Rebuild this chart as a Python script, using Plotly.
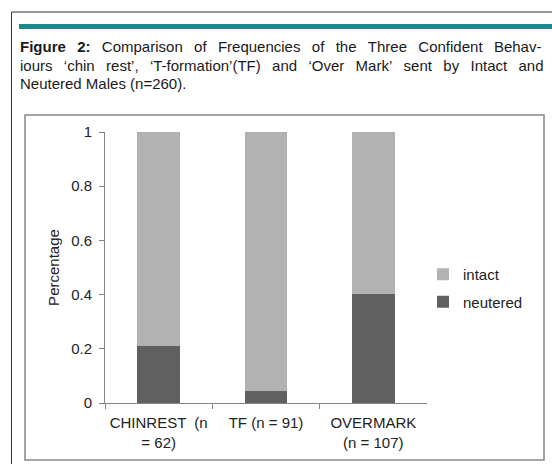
import plotly.graph_objects as go

W, H = 552, 464

categories = ["CHINREST  (n<br>= 62)", "TF (n = 91)", "OVERMARK<br>(n = 107)"]
neutered = [0.21, 0.044, 0.402]
intact = [0.79, 0.956, 0.598]
y_ticks = [0, 0.2, 0.4, 0.6, 0.8, 1]
y_tick_labels = ["0", "0.2", "0.4", "0.6", "0.8", "1"]
title_lines = [
    ["<b>Figure", "2:</b>", "Comparison", "of", "Frequencies", "of", "the", "Three",
     "Confident", "Behav-"],
    ["iours", "\u2018chin", "rest\u2019,", "\u2018T-formation\u2019(TF)", "and", "\u2018Over",
     "Mark\u2019", "sent", "by", "Intact", "and"],
    ["Neutered", "Males", "(n=260)."],
]
justified = [True, True, False]

FONT = "Liberation Sans, Arial, sans-serif"

def px_x(v):
    return v / W

def px_y(v):
    return 1 - v / H

fig = go.Figure()
fig.add_trace(go.Bar(x=categories, y=neutered, name="neutered",
                     marker=dict(color="#606060", line=dict(width=0)),
                     width=0.4, legendgroup="n", legendrank=2))
fig.add_trace(go.Bar(x=categories, y=intact, name="intact",
                     marker=dict(color="#b2b2b2", line=dict(width=0)),
                     width=0.4, legendgroup="i", legendrank=1))

shapes = [
    dict(type="rect", xref="paper", yref="paper", x0=px_x(11.5), x1=px_x(560),
         y0=px_y(480), y1=px_y(12), line=dict(color="#333333", width=1)),
    dict(type="rect", xref="paper", yref="paper", x0=px_x(19), x1=px_x(552),
         y0=px_y(29), y1=px_y(24), line=dict(width=0), fillcolor="#188a8c"),
    dict(type="rect", xref="paper", yref="paper", x0=px_x(25), x1=px_x(544),
         y0=px_y(460), y1=px_y(115), line=dict(color="#868686", width=1.5)),
]

annotations = []
for i, words in enumerate(title_lines):
    sep = "\u00a0\u2009\u00a0" if justified[i] else " "
    annotations.append(dict(text=sep.join(words), xref="paper", yref="paper", x=px_x(18),
                            y=px_y(47 + 18 * i), xanchor="left", yanchor="middle",
                            showarrow=False,
                            font=dict(family=FONT, size=15, color="#1a1a1a")))

fig.update_layout(
    width=W, height=H,
    margin=dict(l=0, r=0, t=0, b=0),
    paper_bgcolor="white", plot_bgcolor="white",
    barmode="stack", bargap=0.6,
    shapes=shapes, annotations=annotations,
    showlegend=True,
    legend=dict(x=px_x(423), y=px_y(258), xanchor="left", yanchor="top",
                traceorder="grouped", tracegroupgap=5,
                font=dict(family=FONT, size=15, color="#222222"),
                bgcolor="rgba(0,0,0,0)"),
    xaxis=dict(domain=[px_x(105), px_x(427)], showline=True, linecolor="#868686",
               linewidth=1, ticks="outside", tickson="boundaries", ticklen=5,
               tickcolor="#868686", showgrid=False, automargin=False,
               ticklabelstandoff=6,
               tickfont=dict(family=FONT, size=15, color="#222222")),
    yaxis=dict(domain=[px_y(403), px_y(132)], range=[0, 1], showline=True,
               linecolor="#868686", linewidth=1, ticks="outside", ticklen=5,
               tickcolor="#868686", showgrid=False, zeroline=False,
               tickvals=y_ticks, ticktext=y_tick_labels, automargin=False,
               ticklabelstandoff=4,
               tickfont=dict(family=FONT, size=15, color="#222222"),
               title=dict(text="Percentage", standoff=7,
                          font=dict(family=FONT, size=15, color="#222222"))),
)

fig.write_html("out.html", config={"displayModeBar": False},
               post_script="document.body.style.margin='0px';")
